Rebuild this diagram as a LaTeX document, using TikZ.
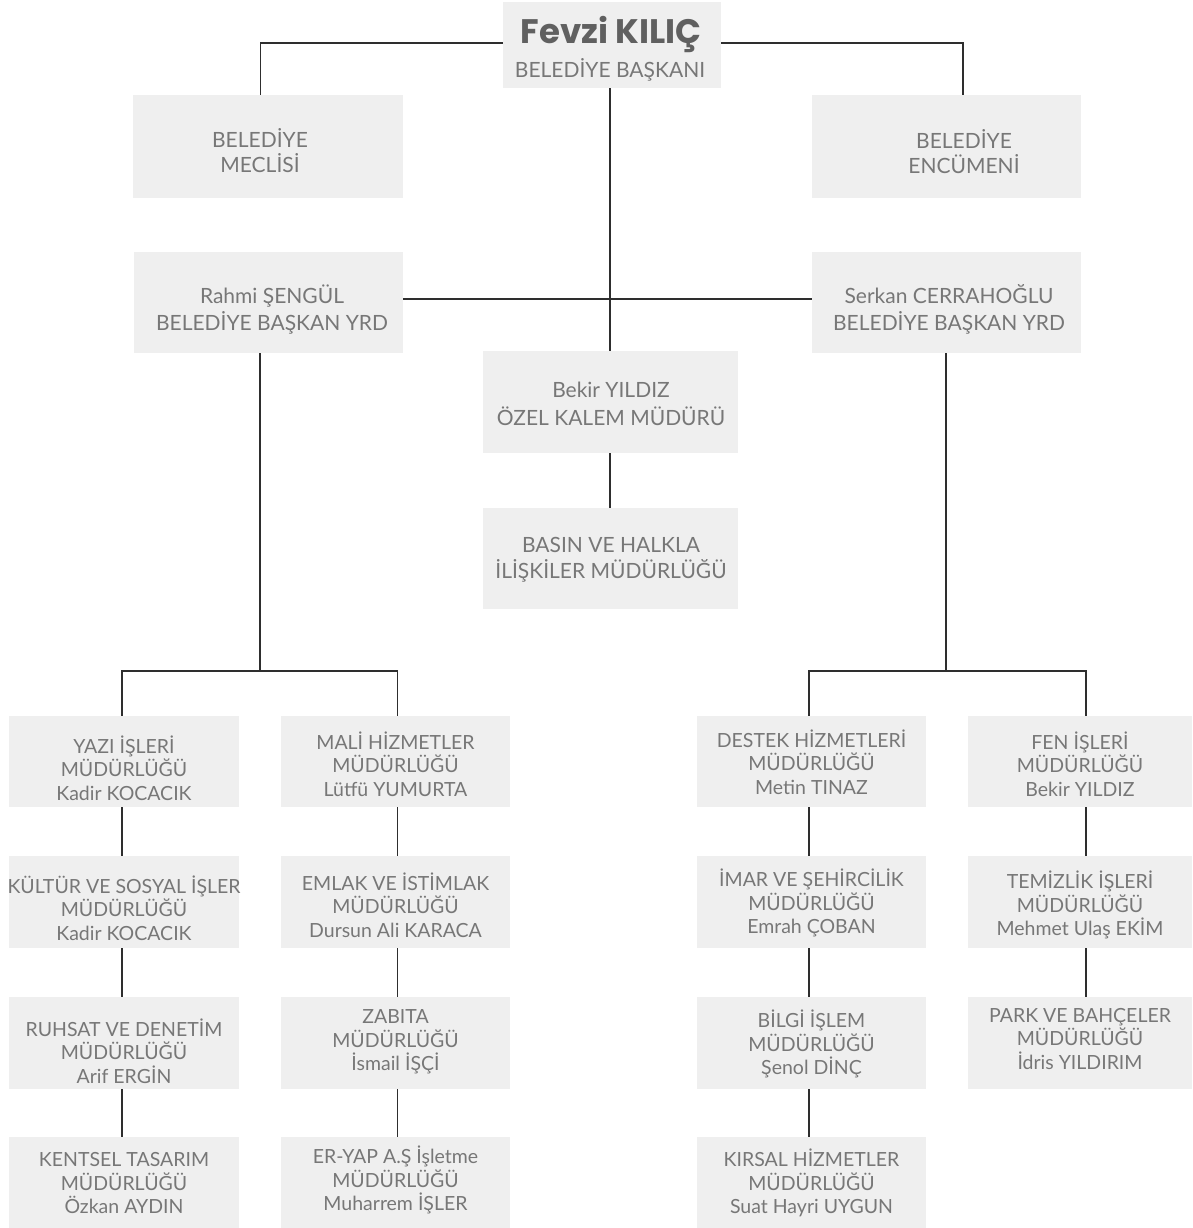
\documentclass[tikz,border=0pt]{standalone}
\usepackage{fontspec}
\setmainfont{Lato}
\newfontfamily\titlefont{Poppins}
\definecolor{boxgray}{HTML}{EFEFEF}
\definecolor{txtgray}{HTML}{777777}
\definecolor{titlegray}{HTML}{606060}
\definecolor{linegray}{HTML}{2E2E2E}
\tikzset{
  box/.style={fill=boxgray, draw=none, inner sep=0pt},
  txt/.style={text=txtgray, align=center, inner sep=0pt, font=\fontsize{19.5}{23.5}\selectfont},
  bigtxt/.style={txt, font=\fontsize{21}{27}\selectfont},
  conn/.style={draw=linegray, line width=1.4pt},
}
% name, box x, box y, width, height, text y, text
\newcommand\orgunit[7]{%
  \node[box, minimum width=#4pt, minimum height=#5pt] (#1) at (#2,#3) {};
  \node[txt] (#1t) at (#2,#6) {#7};}
\begin{document}
\begin{tikzpicture}[x=1pt,y=-1pt]
\useasboundingbox (0,0) rectangle (1192,1228);

% top
\node[box, minimum width=218pt, minimum height=86pt] (top) at (612,45) {};
\node[text=titlegray, inner sep=0pt, font=\titlefont\bfseries\fontsize{34}{34}\selectfont] (topname) at (611,34) {Fevzi KILIÇ};
\node[bigtxt] (toprole) at (610,70) {BELEDİYE BAŞKANI};

% council boxes
\node[box, minimum width=270pt, minimum height=103pt] (meclis) at (268,146.5) {};
\node[txt, font=\fontsize{21}{25}\selectfont] (meclist) at (260,150.5) {BELEDİYE\\MECLİSİ};
\node[box, minimum width=269pt, minimum height=103pt] (encumen) at (946.5,146.5) {};
\node[txt, font=\fontsize{21}{25}\selectfont] (encument) at (964,151.5) {BELEDİYE\\ENCÜMENİ};

% deputies
\node[box, minimum width=269pt, minimum height=101pt] (rahmi) at (268.5,302.5) {};
\node[bigtxt] (rahmit) at (272,309.5) {Rahmi ŞENGÜL\\BELEDİYE BAŞKAN YRD};
\node[box, minimum width=269pt, minimum height=101pt] (serkan) at (946.5,302.5) {};
\node[bigtxt] (serkant) at (949,309.5) {Serkan CERRAHOĞLU\\BELEDİYE BAŞKAN YRD};

% center column
\node[box, minimum width=255pt, minimum height=102pt] (bekir) at (610.5,402) {};
\node[bigtxt, font=\fontsize{21}{28}\selectfont] (bekirt) at (611,404) {Bekir YILDIZ\\ÖZEL KALEM MÜDÜRÜ};
\node[box, minimum width=255pt, minimum height=101pt] (basin) at (610.5,558.5) {};
\node[bigtxt, font=\fontsize{21}{26}\selectfont] (basint) at (611,560) {BASIN VE HALKLA\\İLİŞKİLER MÜDÜRLÜĞÜ};

% column 1
\orgunit{a1}{124}{761.5}{230}{91}{768}{YAZI İŞLERİ\\MÜDÜRLÜĞÜ\\Kadir KOCACIK}
\orgunit{a2}{124}{902}{230}{92}{908}{KÜLTÜR VE SOSYAL İŞLER\\MÜDÜRLÜĞÜ\\Kadir KOCACIK}
\orgunit{a3}{124}{1043}{230}{92}{1051}{RUHSAT VE DENETİM\\MÜDÜRLÜĞÜ\\Arif ERGİN}
\orgunit{a4}{124}{1183}{230}{92}{1183}{KENTSEL TASARIM\\MÜDÜRLÜĞÜ\\Özkan AYDIN}
% column 2
\orgunit{b1}{395.5}{761.5}{229}{91}{764}{MALİ HİZMETLER\\MÜDÜRLÜĞÜ\\Lütfü YUMURTA}
\orgunit{b2}{395.5}{902}{229}{92}{905}{EMLAK VE İSTİMLAK\\MÜDÜRLÜĞÜ\\Dursun Ali KARACA}
\orgunit{b3}{395.5}{1043}{229}{92}{1042}{ZABITA\\MÜDÜRLÜĞÜ\\İsmail İŞÇİ}
\orgunit{b4}{395.5}{1183}{229}{92}{1180}{ER-YAP A.Ş İşletme\\MÜDÜRLÜĞÜ\\Muharrem İŞLER}
% column 3
\orgunit{c1}{811.5}{761.5}{229}{91}{762}{DESTEK HİZMETLERİ\\MÜDÜRLÜĞÜ\\Metin TINAZ}
\orgunit{c2}{811.5}{902}{229}{92}{903}{İMAR VE ŞEHİRCİLİK\\MÜDÜRLÜĞÜ\\Emrah ÇOBAN}
\orgunit{c3}{811.5}{1043}{229}{92}{1044}{BİLGİ İŞLEM\\MÜDÜRLÜĞÜ\\Şenol DİNÇ}
\orgunit{c4}{811.5}{1183}{229}{92}{1183}{KIRSAL HİZMETLER\\MÜDÜRLÜĞÜ\\Suat Hayri UYGUN}
% column 4
\orgunit{d1}{1080}{761.5}{224}{91}{764}{FEN İŞLERİ\\MÜDÜRLÜĞÜ\\Bekir YILDIZ}
\orgunit{d2}{1080}{902}{224}{92}{905}{TEMİZLİK İŞLERİ\\MÜDÜRLÜĞÜ\\Mehmet Ulaş EKİM}
\orgunit{d3}{1080}{1043}{224}{92}{1039}{PARK VE BAHÇELER\\MÜDÜRLÜĞÜ\\İdris YILDIRIM}

% connectors: top level
\draw[conn] ([yshift=2]top.west) -| ([xshift=-7.5]meclis.north);
\draw[conn] ([yshift=2]top.east) -| ([xshift=16.5]encumen.north);
\draw[conn] ([xshift=-2]top.south) -- ([xshift=-0.5]bekir.north);
\draw[conn] ([yshift=3.5]rahmi.east) -- ([yshift=3.5]serkan.west);
\draw[conn] ([xshift=-0.5]bekir.south) -- ([xshift=-0.5]basin.north);

% left tree
\coordinate (jl) at (260,671);
\draw[conn] (rahmi.south -| jl) -- (jl);
\draw[conn] ([xshift=-2]a1.north) |- (jl) -| ([xshift=2]b1.north);
\draw[conn] ([xshift=-2]a1.south) -- ([xshift=-2]a2.north);
\draw[conn] ([xshift=-2]a2.south) -- ([xshift=-2]a3.north);
\draw[conn] ([xshift=-2]a3.south) -- ([xshift=-2]a4.north);
\draw[conn] ([xshift=2]b1.south) -- ([xshift=2]b2.north);
\draw[conn] ([xshift=2]b2.south) -- ([xshift=2]b3.north);
\draw[conn] ([xshift=2]b3.south) -- ([xshift=2]b4.north);

% right tree
\coordinate (jr) at (946,671);
\draw[conn] (serkan.south -| jr) -- (jr);
\draw[conn] ([xshift=-2.5]c1.north) |- (jr) -| ([xshift=6]d1.north);
\draw[conn] ([xshift=-2.5]c1.south) -- ([xshift=-2.5]c2.north);
\draw[conn] ([xshift=-2.5]c2.south) -- ([xshift=-2.5]c3.north);
\draw[conn] ([xshift=-2.5]c3.south) -- ([xshift=-2.5]c4.north);
\draw[conn] ([xshift=6]d1.south) -- ([xshift=6]d2.north);
\draw[conn] ([xshift=6]d2.south) -- ([xshift=6]d3.north);
\end{tikzpicture}
\end{document}
